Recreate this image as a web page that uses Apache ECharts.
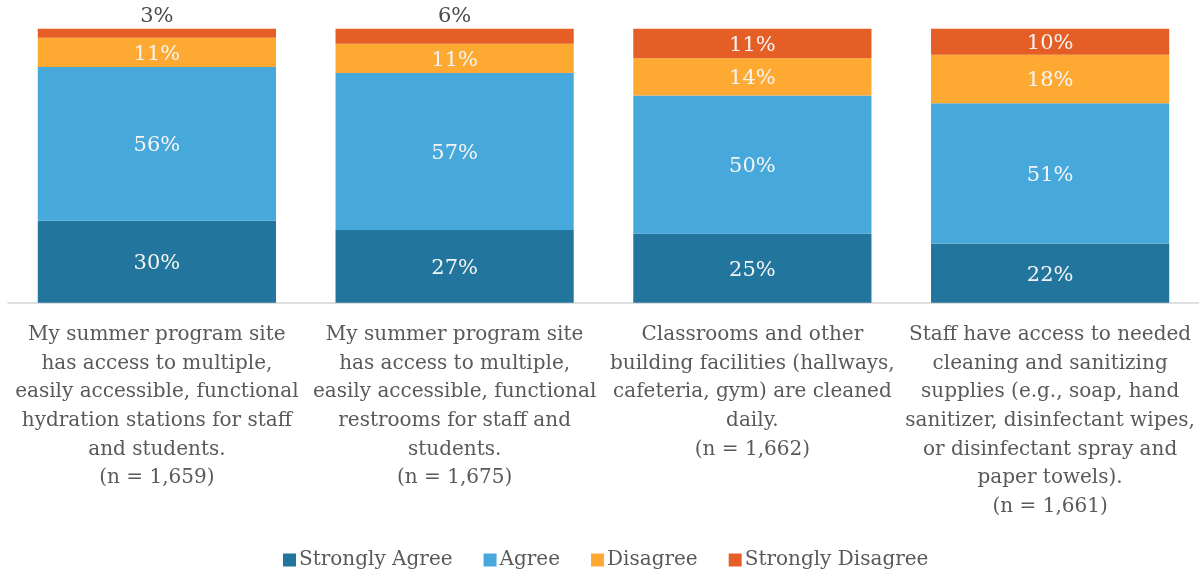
<!DOCTYPE html>
<html>
<head>
<meta charset="utf-8">
<script src="https://cdn.jsdelivr.net/npm/echarts@6/dist/echarts.min.js"></script>
<style>
  html, body { margin: 0; padding: 0; background: #ffffff; }
  #chart { width: 1199px; height: 569px; }
</style>
</head>
<body>
<div id="chart"></div>
<script>
const categories = [
  "My summer program site\nhas access to multiple,\neasily accessible, functional\nhydration stations for staff\nand students.\n(n = 1,659)",
  "My summer program site\nhas access to multiple,\neasily accessible, functional\nrestrooms for staff and\nstudents.\n(n = 1,675)",
  "Classrooms and other\nbuilding facilities (hallways,\ncafeteria, gym) are cleaned\ndaily.\n(n = 1,662)",
  "Staff have access to needed\ncleaning and sanitizing\nsupplies (e.g., soap, hand\nsanitizer, disinfectant wipes,\nor disinfectant spray and\npaper towels).\n(n = 1,661)"
];
const seriesNames = ["Strongly Agree", "Agree", "Disagree", "Strongly Disagree"];
const stronglyAgree = [29.9, 26.5, 25.2, 21.6];
const agree = [56.1, 57.3, 50.4, 51.2];
const disagree = [10.7, 10.7, 13.6, 17.7];
const stronglyDisagree = [3.3, 5.5, 10.8, 9.5];

const colors = ["#22759C", "#47A9DB", "#FEA931", "#E55E26"];
const FONT = "DejaVu Serif";

const chart = echarts.init(document.getElementById('chart'), null, { renderer: 'canvas' });

function insideLabel() {
  return {
    show: true,
    position: 'inside',
    offset: [0, 2],
    color: '#F4F4F4',
    fontFamily: FONT,
    fontSize: 21,
    formatter: p => Math.round(p.value) + '%'
  };
}

function sdData(arr) {
  return arr.map(v => v < 7 ? {
    value: v,
    label: { position: 'top', offset: [0, 0], color: '#4a4a4a', distance: 2 }
  } : v);
}

const allData = [stronglyAgree, agree, disagree, sdData(stronglyDisagree)];

const option = {
  backgroundColor: '#ffffff',
  animation: false,
  color: colors,
  grid: { left: 8, right: 0, top: 28.7, height: 274, containLabel: false },
  legend: {
    data: seriesNames,
    left: 278,
    top: 545,
    itemWidth: 13,
    itemHeight: 13,
    itemGap: 31,
    icon: 'rect',
    textStyle: { fontFamily: FONT, fontSize: 20, color: '#595959', padding: [0, 0, 0, -2] }
  },
  xAxis: {
    type: 'category',
    data: categories,
    axisLine: { show: true, lineStyle: { color: '#D4D4D4', width: 1.5 } },
    axisTick: { show: false },
    axisLabel: {
      interval: 0,
      margin: 18,
      fontFamily: FONT,
      fontSize: 20,
      lineHeight: 28.6,
      color: '#595959',
      align: 'center'
    }
  },
  yAxis: {
    type: 'value',
    min: 0,
    max: 100,
    show: false,
    splitLine: { show: false }
  },
  series: seriesNames.map((name, i) => ({
    name: name,
    type: 'bar',
    stack: 'total',
    barWidth: '80%',
    data: allData[i],
    label: insideLabel(),
    itemStyle: { color: colors[i] }
  }))
};

chart.setOption(option);
</script>
</body>
</html>
